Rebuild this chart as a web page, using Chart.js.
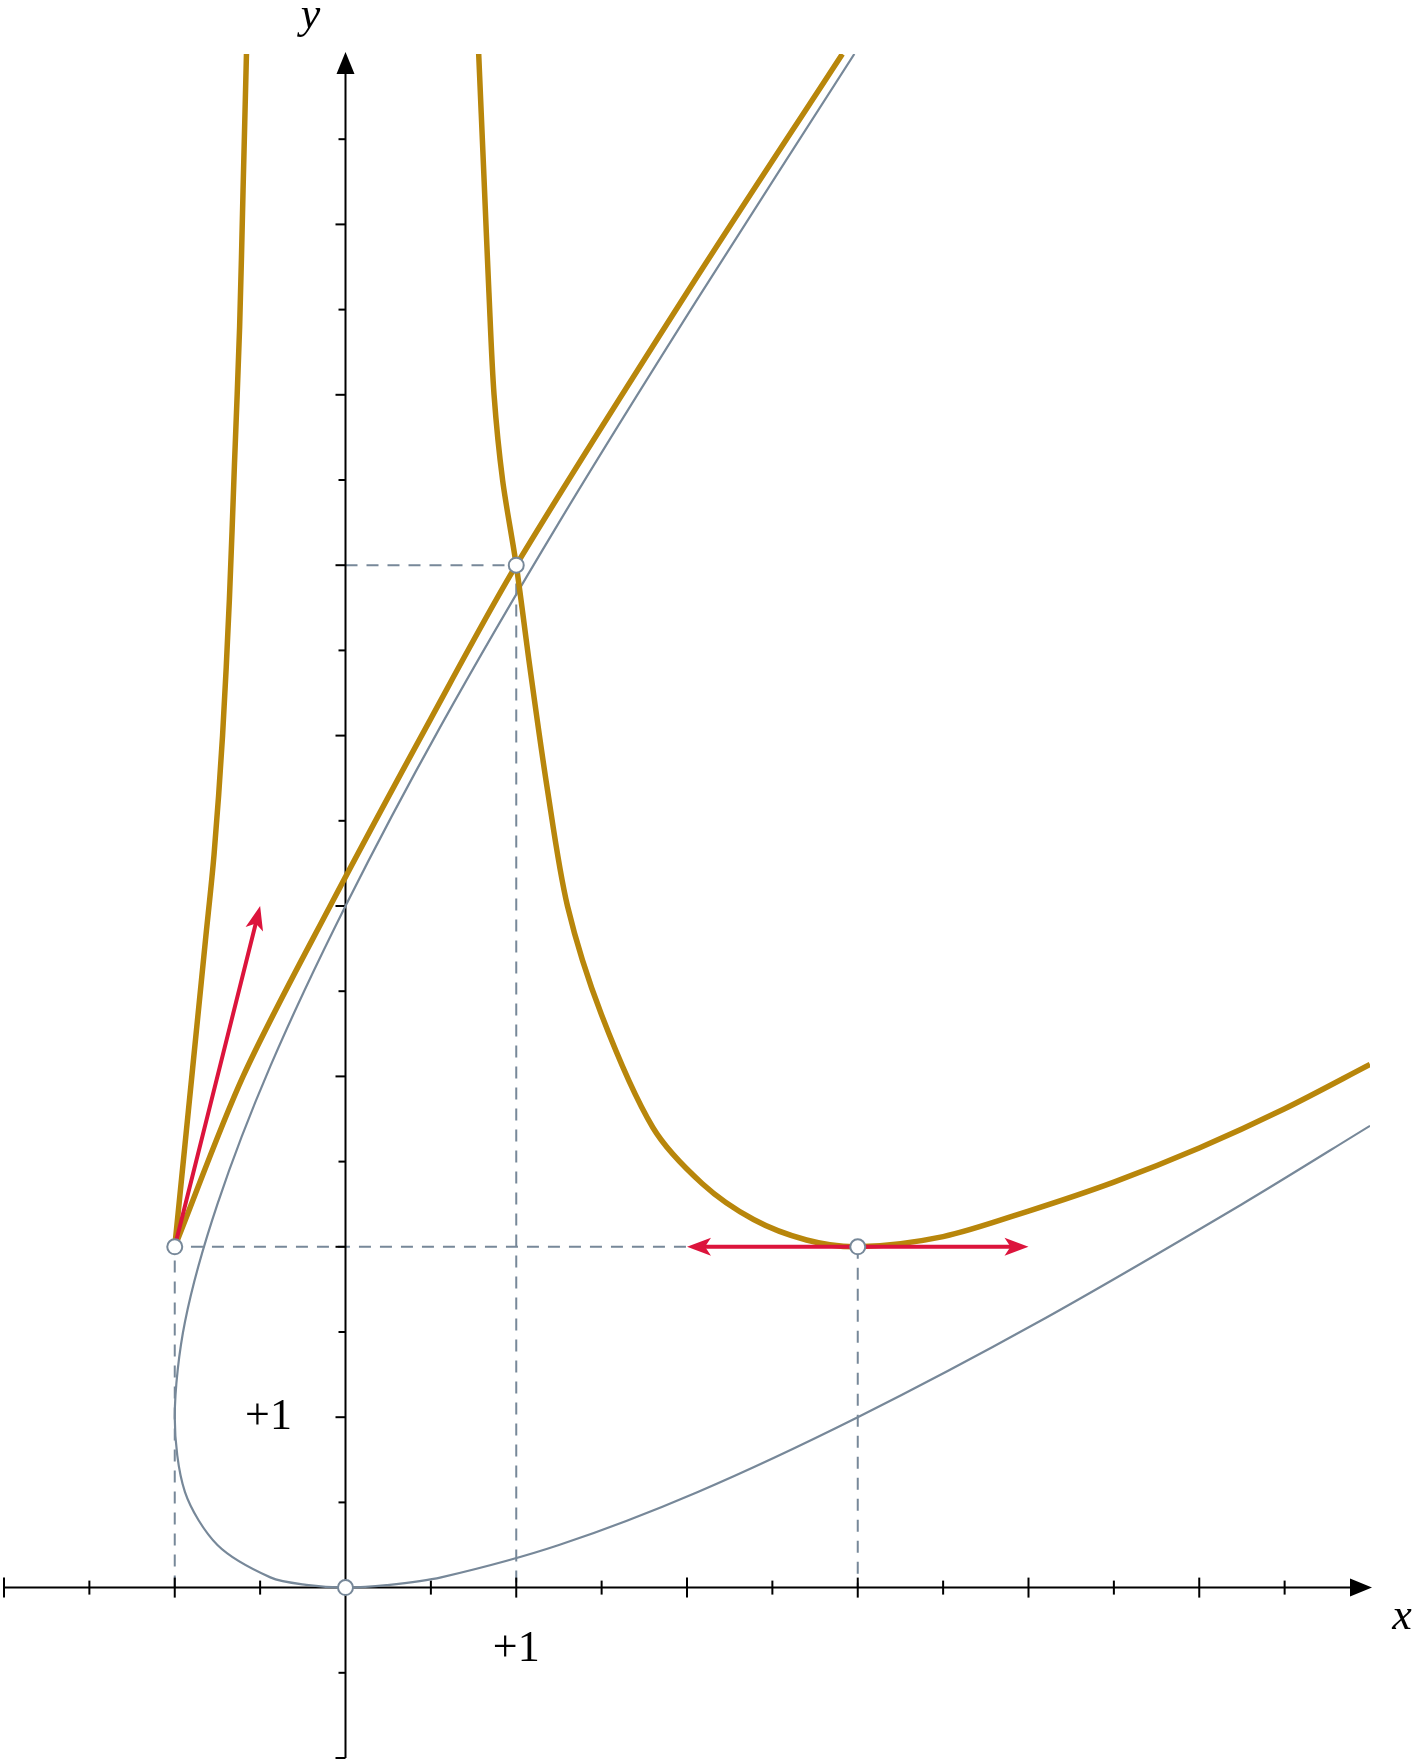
<!DOCTYPE html>
<html><head><meta charset="utf-8">
<script src="https://cdn.jsdelivr.net/npm/chart.js@4"></script>
<style>html,body{margin:0;padding:0;background:#fff}#w{width:1420px;height:1760px}</style>
</head><body><div id="w"><canvas id="c"></canvas></div>
<script>
const grayCurve = [[6,2.71],[5.25,2.25],[4.06,1.56],[3,1],[2.06,0.56],[1.25,0.25],[0.56,0.06],[0.24,0.014],[0,0],[-0.23,0.016],[-0.44,0.06],[-0.75,0.25],[-0.94,0.56],[-1,1],[-0.94,1.56],[-0.75,2.25],[-0.44,3.06],[0,4],[0.56,5.06],[1.25,6.25],[2.06,7.56],[2.98,9]];
const goldLine = [[-1,2],[-0.6,3],[-0.09,4],[0.5,5.1],[1,6],[2,7.6],[2.91,9]];
const goldLeft = [[-1,2],[-0.96,2.4],[-0.92,2.8],[-0.87,3.3],[-0.82,3.8],[-0.77,4.3],[-0.72,5],[-0.68,5.8],[-0.65,6.6],[-0.62,7.4],[-0.6,8.2],[-0.58,9]];
const goldRight = [[0.78,9],[0.81,8.3],[0.84,7.6],[0.87,7],[0.92,6.5],[1,6],[1.08,5.4],[1.18,4.7],[1.3,4],[1.5,3.36],[1.8,2.7],[2.09,2.37],[2.39,2.16],[2.7,2.04],[3,2],[3.5,2.06],[4,2.21],[4.5,2.38],[5,2.58],[5.5,2.81],[6,3.07]];
const dashedLines = [[[-1,0],[-1,2],[3,2]],[[0,6],[1,6],[1,0]],[[3,2],[3,0]]];
const arrows = [[[-1,2],[-0.5,4]],[[3,2],[2,2]],[[3,2],[4,2]]];
const markedPoints = [[-1,2],[1,6],[3,2],[0,0]];
const xTicks = [-2,-1.5,-1,-0.5,0.5,1,1.5,2,2.5,3,3.5,4,4.5,5,5.5];
const yTicks = [-1,-0.5,0.5,1,1.5,2,2.5,3,3.5,4,4.5,5,5.5,6,6.5,7,7.5,8,8.5];

const P = a => a.map(([x,y])=>({x,y}));
const GOLD='#B8860B', GRAY='#778899', RED='#DC143C';
function line(data,color,width,order){return {type:'scatter',data:P(data),showLine:true,borderColor:color,borderWidth:width,pointRadius:0,tension:0.3,fill:false,order};}

const overlay = {
  id:'overlay',
  beforeDatasetsDraw(chart){
    const {ctx,scales:{x,y}}=chart;
    const X=v=>x.getPixelForValue(v), Y=v=>y.getPixelForValue(v);
    ctx.save();
    ctx.strokeStyle=GRAY; ctx.lineWidth=2; ctx.setLineDash([12,9]);
    dashedLines.forEach(seg=>{ctx.beginPath();seg.forEach(([a,b],i)=>i?ctx.lineTo(X(a),Y(b)):ctx.moveTo(X(a),Y(b)));ctx.stroke();});
    ctx.setLineDash([]);
    ctx.strokeStyle='#000'; ctx.fillStyle='#000'; ctx.lineWidth=2;
    ctx.beginPath(); ctx.moveTo(X(-2),Y(0)); ctx.lineTo(X(6)-8,Y(0)); ctx.stroke();
    ctx.beginPath(); ctx.moveTo(X(0),Y(-1)); ctx.lineTo(X(0),Y(9)+8); ctx.stroke();
    ctx.beginPath(); ctx.moveTo(X(6)+2,Y(0)); ctx.lineTo(X(6)-20,Y(0)-9); ctx.lineTo(X(6)-20,Y(0)+9); ctx.closePath(); ctx.fill();
    ctx.beginPath(); ctx.moveTo(X(0),Y(9)-2); ctx.lineTo(X(0)-9,Y(9)+20); ctx.lineTo(X(0)+9,Y(9)+20); ctx.closePath(); ctx.fill();
    xTicks.forEach(v=>{const l=Number.isInteger(v)?10:7;ctx.beginPath();ctx.moveTo(X(v),Y(0)-l);ctx.lineTo(X(v),Y(0)+l);ctx.stroke();});
    yTicks.forEach(v=>{const l=Number.isInteger(v)?10:7;ctx.beginPath();ctx.moveTo(X(0)-l,Y(v));ctx.lineTo(X(0),Y(v));ctx.stroke();});
    ctx.font='44px "Liberation Serif", serif'; ctx.textAlign='center'; ctx.textBaseline='middle';
    ctx.fillText('+1',X(1),Y(0)+62);
    ctx.fillText('+1',X(0)-77,Y(1));
    ctx.font='italic 44px "Liberation Serif", serif';
    ctx.fillText('x',X(6)+32,Y(0)+30);
    ctx.fillText('y',X(0)-35,Y(9)-38);
    ctx.restore();
  },
  afterDatasetsDraw(chart){
    const {ctx,scales:{x,y}}=chart;
    const X=v=>x.getPixelForValue(v), Y=v=>y.getPixelForValue(v);
    ctx.save();
    ctx.strokeStyle=RED; ctx.fillStyle=RED; ctx.lineWidth=4; ctx.lineCap='round';
    arrows.forEach(([[a,b],[c,d]])=>{
      const x0=X(a),y0=Y(b),x1=X(c),y1=Y(d),ang=Math.atan2(y1-y0,x1-x0);
      ctx.beginPath();ctx.moveTo(x0,y0);ctx.lineTo(x1-10*Math.cos(ang),y1-10*Math.sin(ang));ctx.stroke();
      ctx.beginPath();ctx.moveTo(x1,y1);
      ctx.lineTo(x1-24*Math.cos(ang)+9*Math.sin(ang),y1-24*Math.sin(ang)-9*Math.cos(ang));
      ctx.lineTo(x1-18*Math.cos(ang),y1-18*Math.sin(ang));
      ctx.lineTo(x1-24*Math.cos(ang)-9*Math.sin(ang),y1-24*Math.sin(ang)+9*Math.cos(ang));
      ctx.closePath();ctx.fill();
    });
    ctx.fillStyle='#fff'; ctx.strokeStyle=GRAY; ctx.lineWidth=2;
    markedPoints.forEach(([a,b])=>{ctx.beginPath();ctx.arc(X(a),Y(b),7.5,0,Math.PI*2);ctx.fill();ctx.stroke();});
    ctx.restore();
  }
};

new Chart(document.getElementById('c'),{
  type:'scatter',
  data:{datasets:[
    line(grayCurve,GRAY,2.2,3),
    line(goldLine,GOLD,5.5,1),
    line(goldLeft,GOLD,5.5,1),
    line(goldRight,GOLD,5.5,1)
  ]},
  options:{
    responsive:true,maintainAspectRatio:false,animation:false,
    layout:{padding:{left:4,right:50,top:54,bottom:2}},
    plugins:{legend:{display:false},tooltip:{enabled:false}},
    scales:{
      x:{type:'linear',min:-2,max:6,display:false},
      y:{type:'linear',min:-1,max:9,display:false}
    }
  },
  plugins:[overlay]
});
</script></body></html>
